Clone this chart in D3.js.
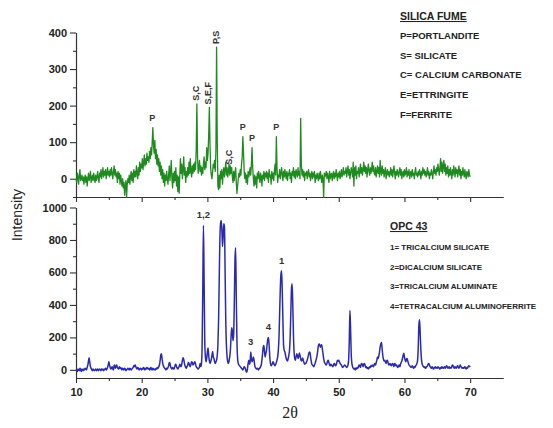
<!DOCTYPE html>
<html><head><meta charset="utf-8">
<script src="https://cdn.jsdelivr.net/npm/d3@7"></script>
<style>
body{margin:0;background:#fff;}
text{font-family:"Liberation Sans",Arial,sans-serif;}
</style></head>
<body><svg id="c" width="553" height="428"></svg>
<script>
// 2-theta grid: 10.0 to 70.0 in steps of 0.1 (one row per degree)
const xStart = 10, xStep = 0.1;
// Silica fume intensities
const silicaFume = [
0,-10,15,5,-15,10,25,-5,0,10,
-5,5,-15,0,10,-10,5,-20,0,15,
-5,5,20,-10,0,10,-5,15,0,-10,
10,-5,5,20,0,-10,15,5,25,0,
15,30,5,20,10,25,0,15,30,10,
20,5,25,10,30,15,0,20,35,10,
25,5,15,-10,20,0,15,-15,10,-5,
-20,0,-25,-10,-45,-20,-5,-50,-15,0,
-10,10,-15,5,20,-5,15,-10,25,5,
20,5,35,15,0,30,10,45,20,40,
30,55,25,45,65,35,55,40,70,50,
60,45,75,55,85,65,100,140,90,70,
105,55,80,40,65,35,55,20,45,10,
35,0,25,-10,15,-20,10,-5,20,0,
-15,10,35,-5,20,50,0,-25,15,-10,
20,-5,30,-20,10,-35,5,-40,10,55,
15,40,0,25,60,10,30,-10,20,5,
30,10,45,15,55,20,5,35,15,40,
20,45,25,80,205,60,15,30,50,20,
35,10,30,15,40,60,25,45,30,85,
50,70,120,195,90,30,10,0,20,40,
30,50,20,80,360,110,-20,-30,10,-25,
20,0,25,-15,15,30,5,25,45,10,
30,5,20,40,10,35,15,30,5,-10,
20,-5,15,30,-10,-40,-20,0,15,5,
25,10,40,60,115,70,20,0,15,-10,
10,-15,20,5,15,30,10,40,85,30,
0,-20,10,-15,5,-25,15,0,20,5,
-10,15,5,-20,10,0,20,-5,15,5,
20,0,15,-10,25,5,10,-15,20,0,
15,-5,20,40,10,115,30,-10,10,5,
25,0,15,30,10,-5,20,5,25,10,
0,20,-5,15,10,25,0,15,-10,20,
10,30,5,20,0,25,15,5,30,10,
20,0,165,40,10,25,5,20,-5,15,
10,20,0,15,25,5,15,-5,10,20,
0,15,5,20,-10,10,0,15,5,-5,
15,0,20,5,-10,10,0,-50,15,5,
10,20,0,15,5,-10,20,0,10,15,
-5,10,20,0,15,5,25,10,-5,15,
5,20,0,10,25,5,15,30,10,20,
15,30,5,20,35,10,25,0,15,30,
20,5,45,-20,30,10,35,0,20,15,
30,5,20,40,15,30,10,25,45,20,
35,15,30,5,25,40,20,10,30,15,
25,45,20,35,15,10,30,5,20,35,
15,30,5,50,20,10,35,15,25,5,
20,30,0,15,25,10,20,5,15,30,
10,25,5,20,35,15,0,20,10,25,
15,5,20,30,10,25,0,15,20,5,
25,10,15,30,5,20,10,25,0,15,
20,5,25,10,15,0,20,30,10,15,
5,20,10,25,15,0,20,10,30,15,
25,10,20,5,15,30,10,20,0,15,
10,25,15,0,20,35,15,25,10,30,
20,40,25,10,30,55,20,45,15,35,
50,20,40,10,30,15,35,5,25,10,
30,15,0,25,10,35,20,5,30,15,
25,5,20,35,10,25,0,20,10,30,
15,5,25,10,0,20,15,5,25,10,
5];
// OPC 43 intensities
const opc43 = [
-5,0,-10,5,0,-5,10,0,-10,5,
0,-5,5,0,10,5,0,15,30,55,
75,45,20,10,0,-5,5,0,-5,0,
5,-5,0,5,-5,0,5,0,-5,5,
0,5,-5,0,5,10,0,5,15,30,
50,30,15,5,10,20,5,0,25,30,
10,20,30,15,10,5,20,10,15,5,
0,10,5,0,10,5,-5,0,5,10,
5,0,10,5,0,5,10,15,25,20,
30,20,10,5,15,10,0,5,10,5,
0,10,5,15,5,0,10,5,15,10,
5,10,0,5,15,5,0,10,5,0,
5,0,10,5,15,10,20,30,55,90,
100,70,40,25,15,10,5,0,10,5,
15,25,45,40,20,10,5,15,10,5,
15,30,35,20,10,5,15,20,35,25,
20,35,60,75,65,40,25,15,10,20,
30,45,40,25,20,35,50,45,30,35,
45,50,35,20,15,10,5,10,20,40,
20,40,150,500,890,560,180,80,50,70,
110,135,90,55,40,50,65,90,113,80,
70,50,40,50,60,90,150,300,550,800,
900,920,870,760,820,900,880,600,300,150,
80,50,40,55,80,120,200,260,240,180,
220,420,680,752,450,180,70,40,30,25,
20,15,10,5,0,10,20,15,5,-10,
-15,5,40,60,35,45,110,70,50,60,
80,60,30,15,10,5,10,5,0,10,
10,20,30,60,100,140,150,110,80,100,
120,160,190,200,150,80,40,25,30,40,
50,40,30,25,35,45,60,80,120,200,
350,500,590,610,480,300,150,120,110,90,
70,60,55,70,90,120,200,350,500,530,
400,220,110,70,60,80,100,90,70,80,
104,90,70,55,60,73,60,45,35,40,
40,50,60,75,95,108,110,85,55,35,
30,25,20,30,40,55,70,90,120,150,
160,155,140,150,155,130,100,70,50,40,
35,30,40,55,60,45,30,25,35,30,
25,20,30,40,35,25,30,45,60,55,
60,50,40,35,30,20,15,20,25,30,
25,20,15,20,30,60,180,365,250,90,
40,20,10,5,10,0,10,5,15,10,
20,30,25,15,35,40,30,20,35,40,
30,15,20,10,15,5,10,20,15,25,
20,30,25,20,35,40,30,45,60,80,
70,85,110,140,160,168,130,90,65,55,
60,50,40,55,60,45,30,35,40,30,
25,35,40,30,20,40,35,25,30,20,
15,25,30,20,35,45,55,70,90,102,
80,60,50,65,70,55,40,30,25,20,
15,20,25,15,10,20,15,25,30,40,
60,140,280,308,220,120,60,35,25,20,
15,20,10,15,20,25,35,40,30,20,
15,10,20,15,5,10,15,20,10,15,
10,20,15,10,5,15,10,20,15,10,
15,20,10,15,25,20,10,15,20,10,
15,10,20,30,25,15,10,20,15,10,
20,25,15,10,20,30,20,15,10,15,
10,15,20,10,5,15,10,20,25,20,
25];
const xTicks = [10,20,30,40,50,60,70];
const topTicks = [0,100,200,300,400];
const botTicks = [0,200,400,600,800,1000];
const legendTop = ["P=PORTLANDITE","S= SILICATE","C= CALCIUM CARBONATE","E=ETTRINGITE","F=FERRITE"];
const legendBot = ["1= TRICALCIUM SILICATE","2=DICALCIUM SILICATE","3=TRICALCIUM ALUMINATE","4=TETRACALCIUM ALUMINOFERRITE"];
const topPeaks = [{t:21.6,v:140,s:"P",r:false},{t:28.4,v:205,s:"S,C",r:true},{t:30.3,v:195,s:"S,E,F",r:true},{t:31.4,v:360,s:"P,S",r:true},{t:33.4,v:30,s:"S,C",r:true},{t:35.4,v:115,s:"P",r:false},{t:36.8,v:85,s:"P",r:false},{t:40.5,v:115,s:"P",r:false}];
const botPeaks = [{t:29.4,v:890,s:"1,2"},{t:36.6,v:110,s:"3"},{t:39.3,v:200,s:"4"},{t:41.3,v:610,s:"1"}];

const svg = d3.select("#c");
const x = d3.scaleLinear([10,75],[76,503]);
const yT = d3.scaleLinear([-50,400],[197,32.5]);
const yB = d3.scaleLinear([-50,1000],[378,207.5]);
const axCol = "#333";

function styleAxis(g){
  g.selectAll("path,line").attr("stroke",axCol).attr("stroke-width",1.1);
  g.selectAll("text").attr("fill","#222").attr("font-weight","bold").attr("font-size","11px");
}
const minorX = d3.range(15,75,10);
// top panel axes
svg.append("g").attr("transform","translate(76,0)")
  .call(d3.axisLeft(yT).tickValues(topTicks).tickSize(6).tickSizeOuter(0).tickPadding(3).tickFormat(d3.format("d"))).call(styleAxis);
svg.append("g").attr("transform","translate(76,0)")
  .call(d3.axisLeft(yT).tickValues(d3.range(-50,400,100)).tickSize(3).tickSizeOuter(0).tickFormat("")).call(styleAxis);
svg.append("g").attr("transform","translate(0,197)")
  .call(d3.axisBottom(x).tickValues(xTicks).tickSize(5).tickSizeOuter(0).tickFormat("")).call(styleAxis);
svg.append("g").attr("transform","translate(0,197)")
  .call(d3.axisBottom(x).tickValues(minorX).tickSize(3).tickSizeOuter(0).tickFormat("")).call(styleAxis);
// bottom panel axes
svg.append("g").attr("transform","translate(76,0)")
  .call(d3.axisLeft(yB).tickValues(botTicks).tickSize(6).tickSizeOuter(0).tickPadding(3).tickFormat(d3.format("d"))).call(styleAxis);
svg.append("g").attr("transform","translate(76,0)")
  .call(d3.axisLeft(yB).tickValues(d3.range(100,1000,200)).tickSize(3).tickSizeOuter(0).tickFormat("")).call(styleAxis);
svg.append("g").attr("transform","translate(0,378)")
  .call(d3.axisBottom(x).tickValues(xTicks).tickSize(5).tickSizeOuter(0).tickPadding(5)).call(styleAxis);
svg.append("g").attr("transform","translate(0,378)")
  .call(d3.axisBottom(x).tickValues(minorX).tickSize(3).tickSizeOuter(0).tickFormat("")).call(styleAxis);

// lines
const tOf = i => xStart + i*xStep;
svg.append("path").datum(silicaFume)
  .attr("d", d3.line().x((d,i)=>x(tOf(i))).y(d=>yT(d)))
  .attr("fill","none").attr("stroke","#1f8a1f").attr("stroke-width",1.3).attr("stroke-linejoin","round");
svg.append("path").datum(opc43)
  .attr("d", d3.line().x((d,i)=>x(tOf(i))).y(d=>yB(d)).curve(d3.curveMonotoneX))
  .attr("fill","none").attr("stroke","#2a2ab0").attr("stroke-width",1.5).attr("stroke-linejoin","round");

// peak annotations
topPeaks.forEach(p=>{
  const t = svg.append("text").attr("fill","#333").attr("font-weight","bold").attr("font-size","9px").text(p.s);
  if(p.r){
    const w = t.node().getComputedTextLength();
    t.attr("transform",`translate(${x(p.t)-1},${yT(p.v)-3-w/2}) rotate(-90)`)
     .attr("text-anchor","middle").attr("dominant-baseline","central");
  } else {
    t.attr("x",x(p.t)).attr("y",yT(p.v)-7).attr("text-anchor","middle");
  }
});
botPeaks.forEach(p=>{
  svg.append("text").attr("fill","#333").attr("font-weight","bold").attr("font-size","9.5px")
    .attr("x",x(p.t)).attr("y",yB(p.v)-7).attr("text-anchor","middle").text(p.s);
});

// legends
svg.append("text").attr("x",400).attr("y",20).attr("font-weight","bold").attr("font-size","10.5px")
  .attr("fill","#222").attr("text-decoration","underline").text("SILICA FUME");
legendTop.forEach((s,i)=>svg.append("text").attr("x",400).attr("y",39+i*19.7)
  .attr("font-weight","bold").attr("font-size","9.5px").attr("fill","#222").text(s));
svg.append("text").attr("x",390).attr("y",230).attr("font-weight","bold").attr("font-size","10.5px")
  .attr("fill","#222").attr("text-decoration","underline").text("OPC 43");
legendBot.forEach((s,i)=>svg.append("text").attr("x",390).attr("y",250+i*19.5)
  .attr("font-weight","bold").attr("font-size","8px").attr("fill","#222").text(s));

// axis titles
svg.append("text").attr("transform","translate(22,215) rotate(-90)").attr("text-anchor","middle")
  .attr("font-size","14px").attr("fill","#222").text("Intensity");
svg.append("text").attr("x",290).attr("y",418).attr("text-anchor","middle")
  .style("font-family","'Liberation Serif','DejaVu Serif',serif").attr("font-size","16px").attr("fill","#222").text("2θ");
</script></body></html>
